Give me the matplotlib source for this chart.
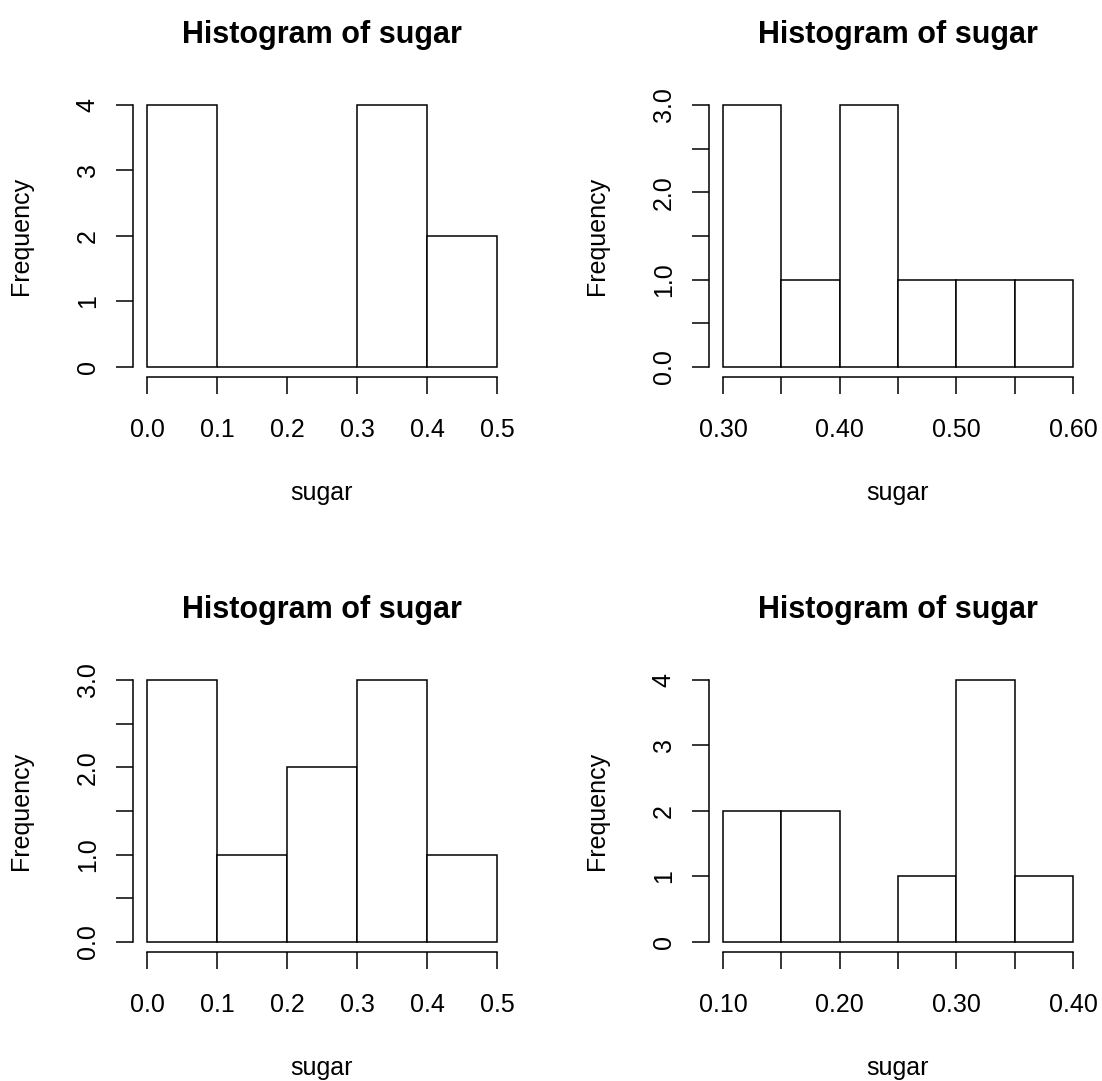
import matplotlib
matplotlib.use('Agg')
import matplotlib.pyplot as plt
import numpy as np

plt.rcParams['font.family'] = ['Liberation Sans', 'DejaVu Sans']

# bin edges and counts for each of the four panels (row by row)
edges_tl = [0.0, 0.1, 0.2, 0.3, 0.4, 0.5]
counts_tl = [4, 0, 0, 4, 2]

edges_tr = [0.30, 0.35, 0.40, 0.45, 0.50, 0.55, 0.60]
counts_tr = [3, 1, 3, 1, 1, 1]

edges_bl = [0.0, 0.1, 0.2, 0.3, 0.4, 0.5]
counts_bl = [3, 1, 2, 3, 1]

edges_br = [0.10, 0.15, 0.20, 0.25, 0.30, 0.35, 0.40]
counts_br = [2, 2, 0, 1, 4, 1]

# tick positions and the labels shown (blank = tick only)
xticks_tl = [0.0, 0.1, 0.2, 0.3, 0.4, 0.5]
xlabels_tl = ['0.0', '0.1', '0.2', '0.3', '0.4', '0.5']
yticks_tl = [0, 1, 2, 3, 4]
ylabels_tl = ['0', '1', '2', '3', '4']

xticks_tr = [0.30, 0.35, 0.40, 0.45, 0.50, 0.55, 0.60]
xlabels_tr = ['0.30', '', '0.40', '', '0.50', '', '0.60']
yticks_tr = [0.0, 0.5, 1.0, 1.5, 2.0, 2.5, 3.0]
ylabels_tr = ['0.0', '', '1.0', '', '2.0', '', '3.0']

xticks_bl = [0.0, 0.1, 0.2, 0.3, 0.4, 0.5]
xlabels_bl = ['0.0', '0.1', '0.2', '0.3', '0.4', '0.5']
yticks_bl = [0.0, 0.5, 1.0, 1.5, 2.0, 2.5, 3.0]
ylabels_bl = ['0.0', '', '1.0', '', '2.0', '', '3.0']

xticks_br = [0.10, 0.15, 0.20, 0.25, 0.30, 0.35, 0.40]
xlabels_br = ['0.10', '', '0.20', '', '0.30', '', '0.40']
yticks_br = [0, 1, 2, 3, 4]
ylabels_br = ['0', '1', '2', '3', '4']

panels = [
        (edges_tl, counts_tl, xticks_tl, xlabels_tl, yticks_tl, ylabels_tl),
        (edges_tr, counts_tr, xticks_tr, xlabels_tr, yticks_tr, ylabels_tr),
        (edges_bl, counts_bl, xticks_bl, xlabels_bl, yticks_bl, ylabels_bl),
        (edges_br, counts_br, xticks_br, xlabels_br, yticks_br, ylabels_br),
]

# plot regions in figure fractions (left, bottom, width, height)
boxes = [
        (0.1207, 0.6508, 0.3430, 0.2618),
        (0.6434, 0.6508, 0.3430, 0.2618),
        (0.1207, 0.1189, 0.3430, 0.2618),
        (0.6434, 0.1189, 0.3430, 0.2618),
]

fig = plt.figure(figsize=(11.02, 10.81), dpi=100)

for (edges, counts, xt, xl, yt, yl), box in zip(panels, boxes):
        ax = fig.add_axes(box)
        edges = np.array(edges)
        ax.bar(edges[:-1], counts, width=np.diff(edges), align='edge',
               facecolor='white', edgecolor='black', linewidth=1.1)

        # R style: 4% padding on both axes
        xr = edges[-1] - edges[0]
        ax.set_xlim(edges[0] - 0.04 * xr, edges[-1] + 0.04 * xr)
        yr = yt[-1] - yt[0]
        ax.set_ylim(yt[0] - 0.04 * yr, yt[-1] + 0.04 * yr)

        ax.spines['top'].set_visible(False)
        ax.spines['right'].set_visible(False)
        ax.spines['bottom'].set_bounds(xt[0], xt[-1])
        ax.spines['left'].set_bounds(yt[0], yt[-1])
        ax.spines['bottom'].set_linewidth(1.1)
        ax.spines['left'].set_linewidth(1.1)

        ax.set_xticks(xt)
        ax.set_xticklabels(xl)
        ax.set_yticks(yt)
        ax.set_yticklabels(yl, rotation=90, va='center')
        ax.tick_params(length=12, width=1.1, labelsize=18)
        ax.tick_params(axis='x', pad=17)
        ax.tick_params(axis='y', pad=12)

        ax.set_title('Histogram of sugar', fontsize=22, fontweight='bold', pad=37)
        ax.set_xlabel('sugar', fontsize=18, labelpad=28)
        ax.set_ylabel('Frequency', fontsize=18, labelpad=31)

plt.savefig('out.png', dpi=100)
